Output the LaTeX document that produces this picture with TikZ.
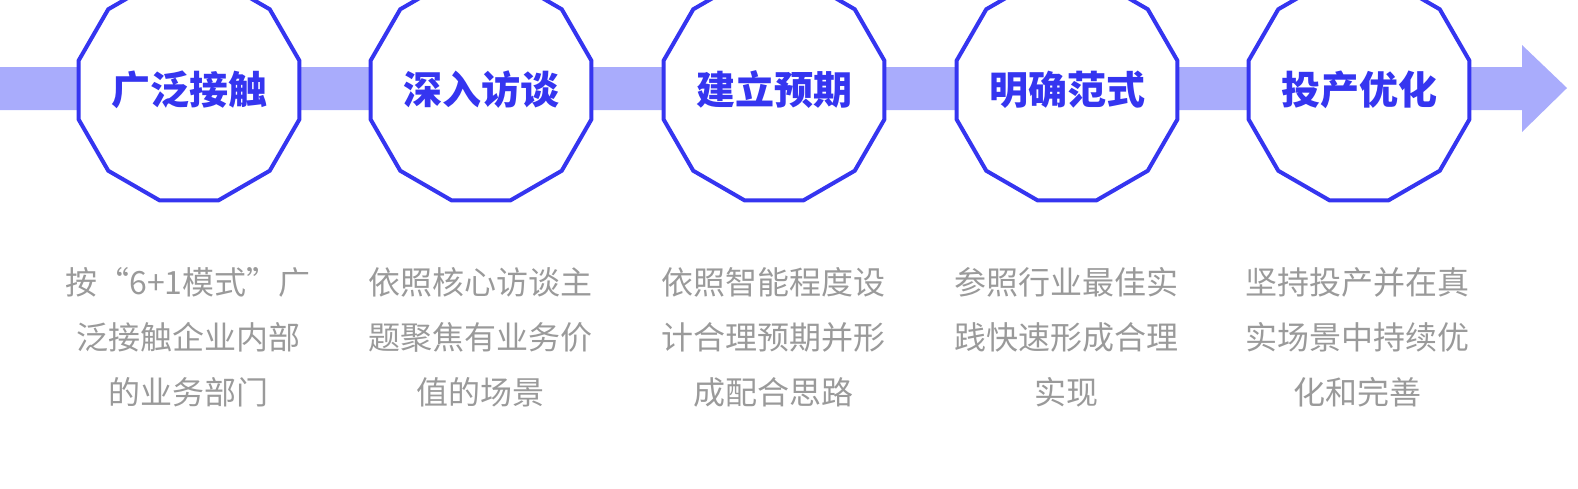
\documentclass[tikz,border=0pt]{standalone}
\usepackage{fontspec}
\newfontfamily\cjk{Noto Sans CJK SC}
\usetikzlibrary{shapes.geometric}
\definecolor{stepblue}{HTML}{3535F0}
\definecolor{bandblue}{HTML}{A9ACFC}
\definecolor{descgray}{HTML}{9A9A9A}
\tikzset{
  phase/.style={regular polygon, regular polygon sides=12, minimum size=182pt,
    draw=stepblue, line width=4pt, fill=white, inner sep=0pt,
    text=stepblue, font=\cjk\fontsize{39}{42}\selectfont\bfseries},
  desc/.style={align=center, text=descgray, font=\cjk\fontsize{32}{55}\selectfont}
}
\begin{document}
\begin{tikzpicture}[x=1pt,y=-1pt]
  \useasboundingbox (0,0) rectangle (1578,488);
  \fill[bandblue] (0,67) -- (1522,67) -- (1522,45) -- (1567,88) -- (1522,132)
    -- (1522,110) -- (0,110) -- cycle;
  \node[phase] (s1) at (189,90) {广泛接触};
  \node[phase] (s2) at (481,90) {深入访谈};
  \node[phase] (s3) at (774,90) {建立预期};
  \node[phase] (s4) at (1067,90) {明确范式};
  \node[phase] (s5) at (1359,90) {投产优化};
  \node[desc] (d1) at (188,337) {按“6+1模式”广\\泛接触企业内部\\的业务部门};
  \node[desc] (d2) at (480,337) {依照核心访谈主\\题聚焦有业务价\\值的场景};
  \node[desc] (d3) at (773,337) {依照智能程度设\\计合理预期并形\\成配合思路};
  \node[desc] (d4) at (1066,337) {参照行业最佳实\\践快速形成合理\\实现};
  \node[desc] (d5) at (1357,337) {坚持投产并在真\\实场景中持续优\\化和完善};
\end{tikzpicture}
\end{document}
